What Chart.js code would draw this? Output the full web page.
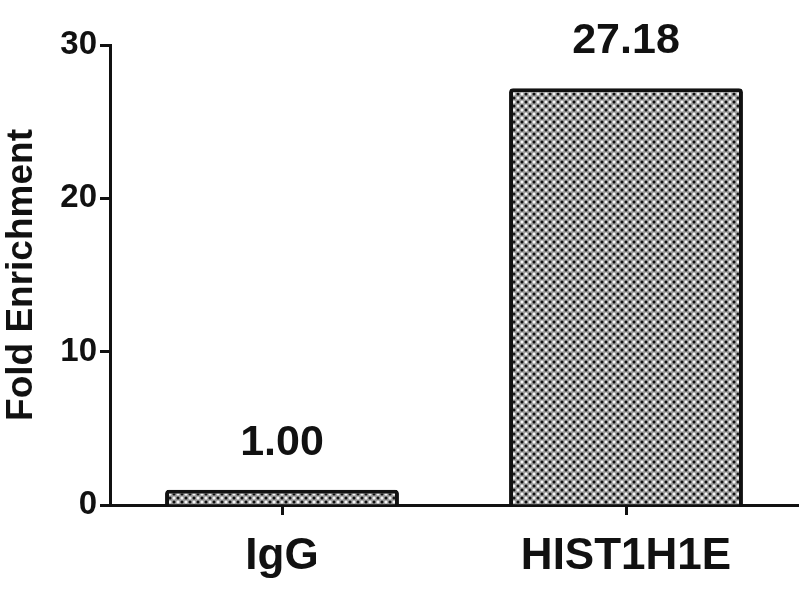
<!DOCTYPE html>
<html>
<head>
<meta charset="utf-8">
<script src="https://cdn.jsdelivr.net/npm/chart.js@4"></script>
<style>
  html, body { margin: 0; padding: 0; background: #fff; }
  #wrap { width: 800px; height: 600px; }
</style>
</head>
<body>
<div id="wrap"><canvas id="foldChart" width="800" height="600"></canvas></div>
<script>
// Data
const categories = ["IgG", "HIST1H1E"];
const foldValues = [1.00, 27.18];
const valueLabels = ["1.00", "27.18"];
const yTicks = [0, 10, 20, 30];

const FONT = "'Liberation Sans', Arial, Helvetica, sans-serif";

// Dotted grey fill like the printed halftone
function makeDotPattern() {
    const tile = document.createElement('canvas');
    tile.width = 8;
    tile.height = 8;
    const c = tile.getContext('2d');
    c.fillStyle = '#9c9c9c';
    c.fillRect(0, 0, 8, 8);
    function dot(x, y, col) {
        c.fillStyle = col;
        c.beginPath();
        c.arc(x, y, 1.5, 0, Math.PI * 2);
        c.fill();
    }
    dot(2, 2, '#111');
    dot(6, 6, '#111');
    dot(6, 2, '#f4f4f4');
    dot(2, 6, '#f4f4f4');
    return document.getElementById('foldChart').getContext('2d').createPattern(tile, 'repeat');
}

// Value labels above each bar
const valueLabelPlugin = {
    id: 'valueLabels',
    afterDatasetsDraw(chart) {
        const ctx = chart.ctx;
        const meta = chart.getDatasetMeta(0);
        ctx.save();
        ctx.font = "bold 43px " + FONT;
        ctx.fillStyle = '#111';
        ctx.textAlign = 'center';
        ctx.textBaseline = 'middle';
        meta.data.forEach((bar, i) => {
            ctx.fillText(valueLabels[i], bar.x, bar.y - 47);
        });
        ctx.restore();
    }
};

document.addEventListener('DOMContentLoaded', function () {
    const canvas = document.getElementById('foldChart');
    const ctx = canvas.getContext('2d');
    new Chart(ctx, {
        type: 'bar',
        data: {
            labels: categories,
            datasets: [{
                data: foldValues,
                backgroundColor: makeDotPattern(),
                borderColor: '#111',
                borderWidth: 4,
                borderRadius: 4,
                borderSkipped: 'bottom',
                categoryPercentage: 1.0,
                barPercentage: 0.68
            }]
        },
        options: {
            responsive: false,
            animation: false,
            layout: { padding: { top: 45, right: 2, left: 0, bottom: 0 } },
            plugins: {
                legend: { display: false },
                tooltip: { enabled: false }
            },
            scales: {
                x: {
                    grid: { offset: false, drawOnChartArea: false, drawTicks: true, tickLength: 10, tickWidth: 3, tickColor: '#111' },
                    border: { color: '#111', width: 3 },
                    ticks: { color: '#111', padding: 15, font: { family: FONT, size: 44, weight: 'bold' } },
                    afterFit(scale) { scale.height = 95; }
                },
                y: {
                    min: 0,
                    max: 30,
                    afterBuildTicks(scale) { scale.ticks = yTicks.map(v => ({ value: v })); },
                    grid: { drawOnChartArea: false, drawTicks: true, tickLength: 10, tickWidth: 3, tickColor: '#111' },
                    border: { color: '#111', width: 3 },
                    ticks: { color: '#111', padding: 3, font: { family: FONT, size: 33, weight: 'bold' } },
                    title: {
                        display: true,
                        text: 'Fold Enrichment',
                        color: '#111',
                        padding: { top: 0, bottom: 0 },
                        font: { family: FONT, size: 37, weight: 'bold' }
                    },
                    afterFit(scale) { scale.width = 110; }
                }
            }
        },
        plugins: [valueLabelPlugin]
    });
});
</script>
</body>
</html>
